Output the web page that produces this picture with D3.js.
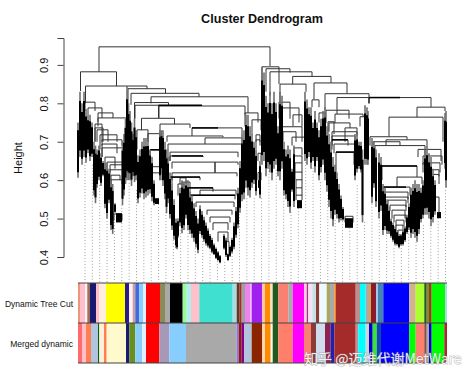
<!DOCTYPE html>
<html>
<head>
<meta charset="utf-8">
<script src="https://cdn.jsdelivr.net/npm/d3@7"></script>
<style>
  html, body { margin: 0; padding: 0; background: #fff; }
  text { font-family: "Liberation Sans", Arial, sans-serif; }
</style>
</head>
<body>
<svg id="viz"></svg>
<script>
// leaf rank runs 0..369 along the tree, everything else is merge height
const heightTicks = [0.4, 0.5, 0.6, 0.7, 0.8, 0.9]
const rowNames = ["Dynamic Tree Cut", "Merged dynamic"]

// merges: [left rank, right rank, height, left child height, right child height]
const merges = [
  [21, 192, .947, .882, .897], [2.5, 38.5, .882, .832, .845], [7.5, 69, .845, .80, .838],
  [50, 87.5, .838, .783, .826], [53, 121, .826, .796, .817], [73, 170, .817, .80, .775],
  [56.5, 90.5, .802, .76, .795], [57, 81, .795, .76, .762], [80.5, 167, .793, .762, .77],
  [63.5, 96.5, .761, .73, .746], [82, 112, .746, .60, .736], [114, 164, .736, .715, .72],
  [89, 145, .715, .70, .712], [127, 164, .710, .694, .70], [90, 165, .694, .65, .70],
  [92, 160, .673, .65, .66], [92, 125, .663, .65, .66], [94, 160, .647, .63, .64],
  [137, 137, .647, .619, .619], [94, 159, .619, .60, .61], [94, 122, .608, .59, .60],
  [109, 135, .58, .57, .57], [122, 158, .574, .56, .56], [112, 157, .561, .55, .55],
  [118, 156, .543, .53, .53], [129, 154, .522, .51, .51], [132, 152, .504, .49, .49],
  [135, 150, .489, .47, .47], [140, 150, .465, .44, .44], [146, 151, .44, .42, .41],
  [102, 108, .606, .59, .59], [100, 106, .59, .56, .56], [104, 112, .595, .56, .56],
  // left ladder
  [7, 17, .803, .78, .78], [10, 24, .788, .77, .762], [20, 35, .775, .752, .762],
  [20, 49, .762, .74, .74], [17, 24, .746, .70, .70], [17, 25, .736, .70, .70],
  [19, 30, .731, .70, .70], [22, 39, .718, .68, .70], [24, 44, .705, .69, .69],
  [24, 39, .694, .66, .67], [24, 48, .684, .66, .67], [27, 37, .66, .63, .63],
  [29, 45, .647, .62, .63], [32, 45, .64, .62, .62], [32, 45, .627, .60, .61],
  [33, 42, .613, .59, .60], [33, 44, .601, .58, .59], [36, 44, .512, .495, .495],
  // second fan
  [59, 70, .731, .68, .70], [70, 82, .721, .70, .70], [72, 82, .679, .66, .66],
  [73, 83, .635, .62, .62], [74, 84, .619, .60, .60],
  // stair right of the long wedge
  [167, 180, .775, .74, .75], [174, 183, .757, .72, .73], [178, 182, .718, .70, .70],
  [178, 182, .705, .68, .69], [180, 183, .67, .65, .65], [180, 183, .62, .60, .60],
  // third section
  [184, 201, .895, .84, .85], [188, 212, .89, .83, .88], [192, 234, .882, .82, .87],
  [214.7, 253, .87, .85, .853], [202, 228, .85, .79, .83], [236, 269, .853, .81, .826],
  [201, 212, .803, .76, .76], [202, 221, .788, .75, .75], [215, 224, .77, .74, .74],
  [204, 224, .739, .70, .70], [205, 218, .726, .70, .70], [214, 227, .712, .69, .69],
  [216, 224, .684, .665, .665], [216, 224, .663, .645, .645], [217, 224, .645, .62, .62],
  [217, 224, .621, .60, .60], [218, 224, .601, .58, .58], [218, 224, .58, .56, .56],
  [218, 224, .561, .548, .548], [234, 241, .809, .79, .79], [241, 247, .775, .75, .75],
  // fourth section
  [247, 291, .825, .782, .80], [259, 291, .815, .772, .80], [248, 271, .782, .749, .76],
  [257, 285, .772, .749, .765], [250, 256, .752, .72, .72], [251, 272, .749, .726, .736],
  [282, 288, .765, .74, .74], [267, 279, .736, .70, .72], [254, 279, .726, .70, .715],
  [254, 277, .715, .69, .70], [254, 270, .705, .68, .69], [256, 277, .694, .67, .673],
  [258, 276, .673, .60, .64], [267, 275, .506, .49, .49],
  // right end
  [291, 353, .815, .80, .79], [339, 367, .79, .764, .78], [311, 365, .764, .713, .70],
  [292, 329, .713, .69, .705], [308, 349, .705, .69, .69], [295, 322, .70, .67, .69],
  [297, 347, .69, .66, .637], [304, 339, .637, .60, .608], [319, 344, .608, .582, .59],
  [305, 332, .582, .56, .56], [306, 330, .569, .55, .55], [307, 330, .556, .54, .54],
  [310, 328, .548, .53, .53], [312, 328, .535, .52, .52], [314, 327, .522, .50, .50],
  [316, 328, .509, .49, .49], [318, 326, .496, .48, .48], [318, 325, .483, .47, .47],
  [320, 325, .47, .45, .45], [340, 363, .68, .66, .65], [345, 364, .663, .64, .64],
  [345, 362, .645, .62, .62], [349, 361, .627, .61, .61], [349, 361, .615, .59, .59],
  [351, 361, .556, .53, .517]
]

// merges the tree shows as heavy black runs: [left rank, right rank, height]
const heavyRuns = [
  [80.5, 124, .795], [114, 140, .736], [92, 122, .608], [291, 322, .815], [304, 339, .637],
  [258, 276, .673], [254, 270, .705], [72, 82, .679], [94, 125, .663], [109, 135, .58],
  [305, 328, .582], [112, 157, .561]
]

// dense leaf fans: [rank, top height, bottom height]
const fans = [
  [0, .75, .606], [2, .83, .66], [4, .80, .64], [6, .83, .66], [8, .785, .645], [10, .77, .67],
  [12, .77, .65], [14, .75, .66], [16, .70, .56], [17.5, .69, .54], [19, .68, .58], [21, .69, .60],
  [23, .67, .585], [25, .65, .61], [27, .645, .527], [29, .645, .50], [31, .63, .54], [33, .60, .47],
  [34.7, .59, .46], [37, .54, .515], [44.5, .70, .535], [46, .72, .56], [47.5, .76, .59], [49, .845, .60],
  [50.5, .80, .60], [52, .78, .60], [53.5, .75, .585], [55, .72, .61], [56.5, .76, .595], [58, .73, .60],
  [60, .665, .54], [62, .68, .555], [64, .70, .565], [66, .71, .55], [68, .71, .555], [70, .71, .56],
  [72, .68, .565], [74, .66, .545], [76, .60, .535], [82, .73, .60], [83.5, .73, .62], [85, .73, .585],
  [87, .70, .55], [88.5, .68, .514], [90, .66, .54], [92, .62, .50], [94, .59, .47], [96, .55, .445],
  [98, .50, .423], [99, .475, .42], [100, .50, .45], [102, .58, .48], [104, .60, .462], [106, .595, .47],
  [108, .60, .50], [110, .60, .47], [112, .57, .46], [114, .56, .45], [116, .54, .44], [118, .52, .425],
  [120, .50, .41], [122, .535, .46], [124, .52, .45], [126, .505, .44], [128, .49, .43], [130, .475, .425],
  [132, .46, .42], [134, .45, .41], [136, .435, .405], [138, .425, .395], [140, .415, .39], [142, .405, .384],
  [146, .46, .42], [148, .45, .40], [150, .41, .39], [152, .43, .40], [154, .45, .41], [156, .49, .42],
  [158, .53, .45], [160, .58, .475], [162, .65, .515], [164, .72, .545], [166, .73, .55], [168, .77, .58],
  [170, .77, .56], [172, .74, .555], [174, .72, .58], [176, .70, .59], [178, .68, .56], [182, .65, .553],
  [184, .895, .64], [186, .88, .65], [188, .82, .61], [190, .80, .63], [192, .83, .62], [194, .80, .60],
  [196, .83, .63], [198, .80, .64], [200, .74, .61], [202, .83, .60], [204, .82, .63], [206, .70, .56],
  [208, .68, .55], [210, .69, .53], [212, .68, .515], [214, .63, .57], [216, .69, .53], [227, .83, .65],
  [229, .81, .64], [231, .79, .66], [233, .79, .63], [235, .75, .65], [237, .78, .62], [239, .75, .65],
  [241, .73, .60], [243, .76, .62], [245, .78, .64], [247, .79, .60], [249, .74, .57], [251, .72, .53],
  [253, .70, .50], [255, .66, .48], [257, .64, .51], [259, .62, .50], [261, .59, .49], [263, .56, .495],
  [265, .53, .495], [277, .72, .60], [279, .72, .62], [281, .70, .63], [283, .70, .62], [284.5, .68, .49],
  [287, .795, .64], [289, .79, .64], [290, .78, .64], [294, .71, .54], [296, .70, .58], [298, .68, .53],
  [301, .67, .50], [303, .66, .52], [305, .59, .457], [307, .58, .47], [309, .55, .46], [311, .53, .46],
  [313, .50, .45], [315, .49, .44], [317, .48, .43], [319, .47, .43], [321, .46, .423], [323, .46, .43],
  [325, .47, .43], [327, .48, .44], [329, .51, .46], [331, .54, .47], [333, .58, .45], [335, .59, .46],
  [337, .60, .45], [339, .59, .44], [341, .59, .46], [343, .58, .49], [345, .60, .50], [347, .68, .51],
  [349, .69, .51], [351, .67, .50], [353, .66, .48], [355, .63, .49], [357, .60, .51], [367, .775, .63],
  [368, .78, .58]
]

// tight clumps at the tips: [left rank, right rank, top height, bottom height]
const clumps = [
  [38, 44, .514, .49], [77, 81, .553, .538], [180, 181.5, .60, .58], [219, 224, .548, .527],
  [267, 275, .501, .476], [359, 363, .517, .501]
]

// height at which each dotted guide leaves the tree
const guideTops = [
  .647, .640, .587, .517, .491, .535, .593, .574, .540, .527,
  .538, .517, .452, .470, .470, .423, .465, .423, .397, .387,
  .418, .527, .553, .553, .553, .640, .627, .601, .517, .527,
  .647, .632, .595, .561, .496, .501, .476, .587, .491, .640,
  .535, .457, .423, .431, .476, .439, .483, .476, .501, .574
]

const treeCutEdges = [
  0, 2, 7, 9.3, 12, 18, 21.3, 28, 47, 51, 54.7, 57.3, 61.3, 65.3, 68, 82, 87, 92, 104.7, 108.7, 113, 121.3,
  154.7, 158.7, 161.3, 163.7, 167, 172, 173.7, 184.3, 187, 192, 194.7, 200.3, 210.3, 214.7, 226, 228.7, 230.3,
  234.3, 238, 241.3, 248.7, 252, 256.3, 257.7, 277.7, 282, 287.7, 291, 293, 298, 300, 305.3, 331.3, 337.7, 346.3,
  348.7, 351, 353.7, 367, 369
]
const treeCutColors = [
  "#e9967a", "#ffc0cb", "#fff0f5", "#a0705a", "#191970", "#ffc0cb", "#ffefdb", "#ffff00", "#2a1a90", "#fff0f5",
  "#c8a0a0", "#4169e1", "#87cefa", "#e0eeff", "#ff0000", "#8b8b5a", "#a9a9a9", "#000000", "#98fb98", "#afeeee",
  "#ffc0cb", "#40e0d0", "#add8e6", "#5a3a20", "#a52a2a", "#a0a0a0", "#ee82ee", "#f0c0f0", "#a020f0", "#ffc8a0",
  "#ff8c00", "#ffe0c0", "#1f5a1f", "#fa8072", "#a9a9a9", "#ff00ff", "#ffd0e0", "#b03090", "#f5e0f5", "#c8e0e0",
  "#8b3a3a", "#f0f8ff", "#a8a860", "#a9a9a9", "#ff8c00", "#a52a2a", "#bc8f8f", "#00ffff", "#a9a9a9", "#e0a050",
  "#8b1a2a", "#a0c8e8", "#4682b4", "#0000ff", "#d2b48c", "#adff2f", "#1f5a1f", "#8b8b30", "#8b4513", "#00ff00", "#add8e6"
]
const mergedEdges = [
  0, 4, 8, 13, 20, 21.3, 26, 28.7, 48, 51.3, 57.3, 64, 68, 81.3, 91.3, 108, 158.7, 160.7, 163.7, 166.3, 173.7,
  184.3, 187, 192.7, 194.7, 200.3, 214.7, 226, 233, 238, 247, 252.7, 256.3, 277.7, 280.3, 287.7, 291, 294.7, 298.7,
  303, 331.3, 337.7, 346.3, 348.7, 351, 353.7, 366.3, 369
]
const mergedColors = [
  "#ff6a6a", "#ffc0cb", "#ff7f50", "#b0c4de", "#006400", "#ffefdb", "#ff7f50", "#fffacd", "#191970", "#6b8e23",
  "#87cefa", "#e0eeff", "#ff0000", "#a898b8", "#87ceff", "#a9a9a9", "#9370db", "#8b1a1a", "#8b008b", "#b0c4de",
  "#8b2500", "#ffd8b0", "#ff8c00", "#fff8f0", "#1f5a1f", "#ff7f6a", "#ff00ff", "#fa8072", "#8b3a3a", "#cfdcee",
  "#8b2252", "#2020b0", "#a52a2a", "#bc8f8f", "#00ffff", "#d3d3d3", "#0000cd", "#32e632", "#1048b0", "#0000ff",
  "#00ff00", "#fa8072", "#8b4a3a", "#a9a9a9", "#0000cd", "#00ff00", "#a52a2a"
]

const width = 474
const height = 379
const svg = d3.select("#viz")
  .attr("width", width)
  .attr("height", height)
  .style("display", "block")

const x = d3.scaleLinear().domain([0, 369]).range([78, 447])
const y = d3.scaleLinear().domain([0.4, 0.97]).range([257, 38])
const row = d3.scaleBand().domain(rowNames).range([283, 363])
const guideX = d3.scalePoint().domain(d3.range(guideTops.length)).range([7, 367.5])

// dotted guides go under the tree
svg.append("g")
  .selectAll("line")
  .data(guideTops)
  .join("line")
  .attr("x1", (d, i) => x(guideX(i)))
  .attr("x2", (d, i) => x(guideX(i)))
  .attr("y1", d => y(d))
  .attr("y2", 282)
  .attr("stroke", "#a0a0a0")
  .attr("stroke-width", 1)
  .attr("stroke-dasharray", "1,2")

svg.append("g")
  .attr("fill", "none")
  .attr("stroke", "#333")
  .attr("stroke-width", 1)
  .selectAll("path")
  .data(merges)
  .join("path")
  .attr("d", d => `M${x(d[0])},${y(d[3])}V${y(d[2])}H${x(d[1])}V${y(d[4])}`)

svg.append("g")
  .attr("stroke", "#000")
  .attr("stroke-width", 1.5)
  .selectAll("line")
  .data(heavyRuns)
  .join("line")
  .attr("x1", d => x(d[0]))
  .attr("x2", d => x(d[1]))
  .attr("y1", d => y(d[2]))
  .attr("y2", d => y(d[2]))

// soft grey edge of each fan, black core on top
svg.append("g")
  .attr("stroke", "#6e6e6e")
  .attr("stroke-width", 1.6)
  .selectAll("line")
  .data(fans)
  .join("line")
  .attr("x1", d => x(d[0]))
  .attr("x2", d => x(d[0]))
  .attr("y1", d => y(d[1]))
  .attr("y2", d => y(d[2]))

svg.append("g")
  .attr("stroke", "#000")
  .attr("stroke-width", 2)
  .selectAll("line")
  .data(fans)
  .join("line")
  .attr("x1", d => x(d[0]))
  .attr("x2", d => x(d[0]))
  .attr("y1", d => y(d[1]) + (y(d[2]) - y(d[1])) * 0.14)
  .attr("y2", d => y(d[2]) - (y(d[2]) - y(d[1])) * 0.1)

svg.append("g")
  .selectAll("rect")
  .data(clumps)
  .join("rect")
  .attr("x", d => x(d[0]))
  .attr("width", d => x(d[1]) - x(d[0]))
  .attr("y", d => y(d[2]))
  .attr("height", d => y(d[3]) - y(d[2]))
  .attr("fill", "#000")

// colour rows
const drawRow = (name, edges, colors) => {
  svg.append("g")
    .selectAll("rect")
    .data(d3.pairs(edges))
    .join("rect")
    .attr("x", d => x(d[0]))
    .attr("width", d => x(d[1]) - x(d[0]))
    .attr("y", row(name))
    .attr("height", row.bandwidth())
    .attr("fill", (d, i) => colors[i])
  svg.append("text")
    .attr("x", 73)
    .attr("y", row(name) + row.bandwidth() / 2 + 1)
    .attr("dy", "0.35em")
    .attr("text-anchor", "end")
    .attr("font-size", 8.5)
    .attr("fill", "#111")
    .text(name)
}
drawRow(rowNames[0], treeCutEdges, treeCutColors)
drawRow(rowNames[1], mergedEdges, mergedColors)

svg.append("g")
  .selectAll("line")
  .data([283, 323, 363])
  .join("line")
  .attr("x1", x(0))
  .attr("x2", x(369))
  .attr("y1", d => d)
  .attr("y2", d => d)
  .attr("stroke", "#444")
  .attr("stroke-width", 1)

// height axis, R style with rotated labels
const axis = svg.append("g")
  .attr("transform", "translate(63.5,0)")
  .call(d3.axisLeft(y).tickValues(heightTicks).tickSize(6).tickFormat(d3.format(".1f")))
axis.selectAll(".domain, .tick line").attr("stroke", "#444")
axis.selectAll(".tick text")
  .attr("x", 0)
  .attr("y", 0)
  .attr("dy", 0)
  .attr("text-anchor", "middle")
  .attr("dominant-baseline", "middle")
  .attr("transform", "translate(-18.5,0) rotate(-90)")
  .attr("font-size", 11)
  .attr("font-family", "Liberation Sans")
  .attr("fill", "#111")

svg.append("text")
  .attr("transform", "translate(19.5,158) rotate(-90)")
  .attr("text-anchor", "middle")
  .attr("dominant-baseline", "middle")
  .attr("font-size", 11)
  .attr("fill", "#111")
  .text("Height")

svg.append("text")
  .attr("x", 262)
  .attr("y", 23)
  .attr("text-anchor", "middle")
  .attr("font-size", 12.6)
  .attr("font-weight", "bold")
  .attr("fill", "#111")
  .text("Cluster Dendrogram")

// site watermark over the lower right corner
svg.append("text")
  .attr("x", 304)
  .attr("y", 364)
  .attr("font-size", 14)
  .attr("fill", "#fff")
  .attr("fill-opacity", 0.88)
  .style("font-family", '"Noto Sans CJK SC", sans-serif')
  .style("paint-order", "stroke")
  .attr("stroke", "#8a8a8a")
  .attr("stroke-opacity", 0.55)
  .attr("stroke-width", 1)
  .text("知乎 @迈维代谢MetWare")
</script>
</body>
</html>
